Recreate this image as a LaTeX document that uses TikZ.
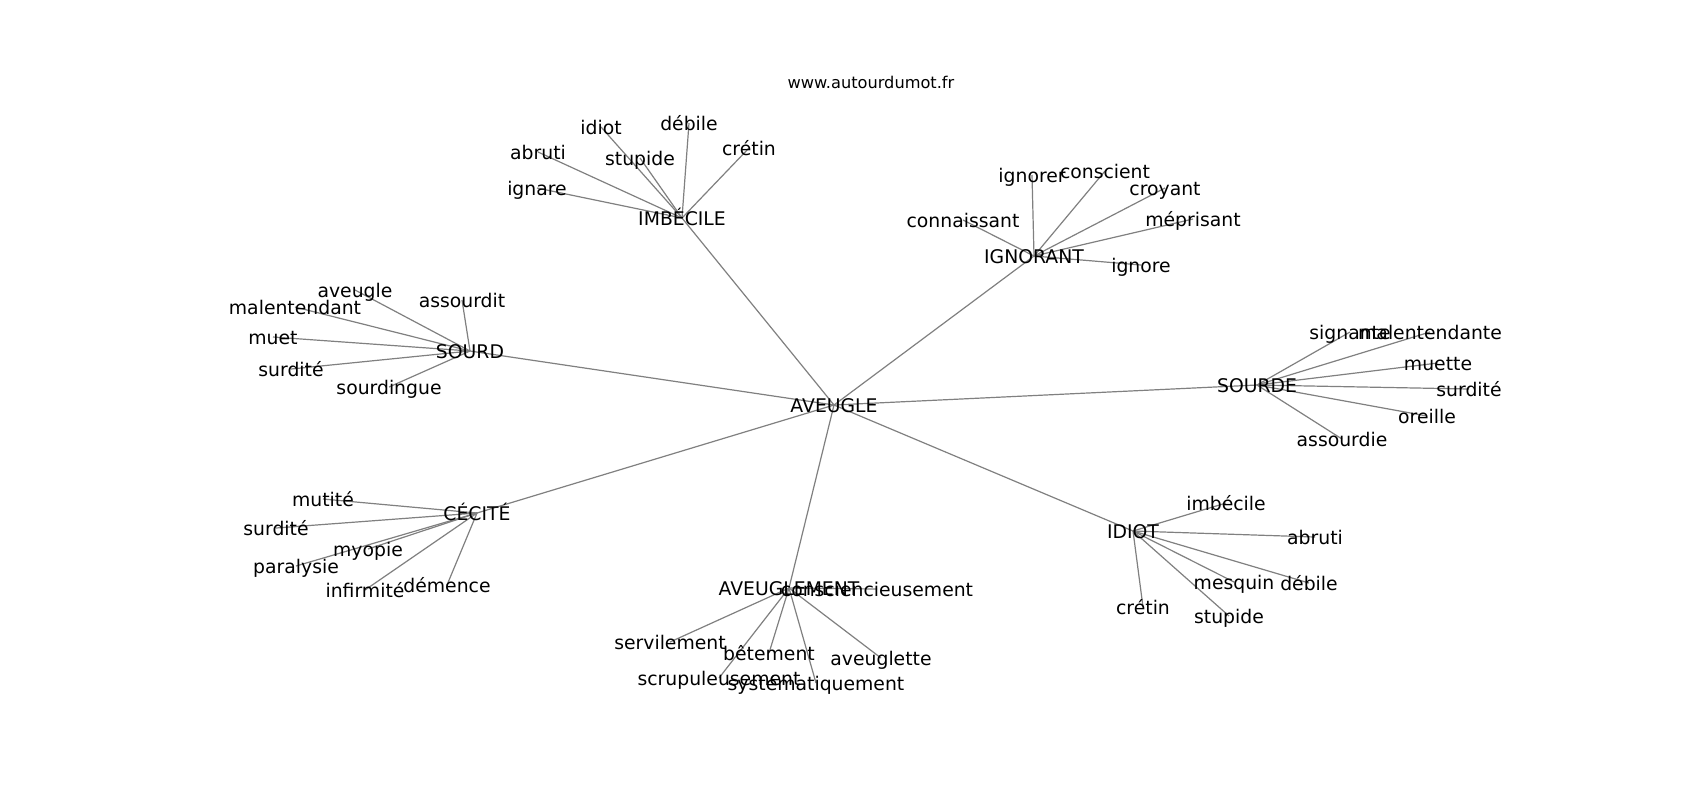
\documentclass[tikz,border=0pt]{standalone}
\usepackage{fontspec}
\setmainfont{DejaVu Sans}
\usetikzlibrary{backgrounds}
\begin{document}
\begin{tikzpicture}[x=0.5pt,y=-0.5pt,
  word/.style={inner sep=0pt, text height=0.76em, text depth=0pt, font=\fontsize{9.4}{11}\selectfont},
  link/.style={draw=gray, line width=0.6pt}]
\useasboundingbox (0,0) rectangle (1700,800);
\node[inner sep=0pt, font=\fontsize{8.1}{10}\selectfont] (site) at (871,82) {www.autourdumot.fr};

%hubs
\node[word] (aveugle) at (834,405) {AVEUGLE};
\node[word] (imbecile) at (682,218) {IMBÉCILE};
\node[word] (ignorant) at (1034,256) {IGNORANT};
\node[word] (sourd) at (470,351) {SOURD};
\node[word] (sourde) at (1257,385) {SOURDE};
\node[word] (cecite) at (477,513) {CÉCITÉ};
\node[word] (aveuglement) at (789,588) {AVEUGLEMENT};
\node[word] (idiot) at (1133,531) {IDIOT};

%around IMBECILE
\node[word] (imb-idiot) at (601,127) {idiot};
\node[word] (imb-debile) at (689,123) {débile};
\node[word] (imb-abruti) at (538,152) {abruti};
\node[word] (imb-stupide) at (640,158) {stupide};
\node[word] (imb-cretin) at (749,148) {crétin};
\node[word] (imb-ignare) at (537,188) {ignare};

%around IGNORANT
\node[word] (ign-ignorer) at (1032,175) {ignorer};
\node[word] (ign-conscient) at (1105,171) {conscient};
\node[word] (ign-croyant) at (1165,188) {croyant};
\node[word] (ign-connaissant) at (963,220) {connaissant};
\node[word] (ign-meprisant) at (1193,219) {méprisant};
\node[word] (ign-ignore) at (1141,265) {ignore};

%around SOURD
\node[word] (srd-aveugle) at (355,290) {aveugle};
\node[word] (srd-assourdit) at (462,300) {assourdit};
\node[word] (srd-malentendant) at (295,307) {malentendant};
\node[word] (srd-muet) at (273,337) {muet};
\node[word] (srd-surdite) at (291,369) {surdité};
\node[word] (srd-sourdingue) at (389,387) {sourdingue};

%around SOURDE
\node[word] (sde-signante) at (1350,332) {signante};
\node[word] (sde-malentendante) at (1430,332) {malentendante};
\node[word] (sde-muette) at (1438,363) {muette};
\node[word] (sde-surdite) at (1469,389) {surdité};
\node[word] (sde-oreille) at (1427,416) {oreille};
\node[word] (sde-assourdie) at (1342,439) {assourdie};

%around CECITE
\node[word] (cec-mutite) at (323,499) {mutité};
\node[word] (cec-surdite) at (276,528) {surdité};
\node[word] (cec-myopie) at (368,549) {myopie};
\node[word] (cec-paralysie) at (296,566) {paralysie};
\node[word] (cec-infirmite) at (365,590) {infirmité};
\node[word] (cec-demence) at (447,585) {démence};

%around AVEUGLEMENT
\node[word] (avt-consciencieusement) at (877,589) {consciencieusement};
\node[word] (avt-servilement) at (670,642) {servilement};
\node[word] (avt-betement) at (769,653) {bêtement};
\node[word] (avt-aveuglette) at (881,658) {aveuglette};
\node[word] (avt-scrupuleusement) at (719,678) {scrupuleusement};
\node[word] (avt-systematiquement) at (816,683) {systématiquement};

%around IDIOT
\node[word] (idi-imbecile) at (1226,503) {imbécile};
\node[word] (idi-abruti) at (1315,537) {abruti};
\node[word] (idi-mesquin) at (1234,582) {mesquin};
\node[word] (idi-debile) at (1309,583) {débile};
\node[word] (idi-cretin) at (1143,607) {crétin};
\node[word] (idi-stupide) at (1229,616) {stupide};

\begin{scope}[on background layer]
\fill[white] (0,0) rectangle (1700,800);
%links from the centre
\draw[link] (aveugle.center) -- (imbecile.center);
\draw[link] (aveugle.center) -- (ignorant.center);
\draw[link] (aveugle.center) -- (sourd.center);
\draw[link] (aveugle.center) -- (sourde.center);
\draw[link] (aveugle.center) -- (cecite.center);
\draw[link] (aveugle.center) -- (aveuglement.center);
\draw[link] (aveugle.center) -- (idiot.center);
%outer links
\draw[link] (imbecile.center) -- (imb-idiot.center);
\draw[link] (imbecile.center) -- (imb-debile.center);
\draw[link] (imbecile.center) -- (imb-abruti.center);
\draw[link] (imbecile.center) -- (imb-stupide.center);
\draw[link] (imbecile.center) -- (imb-cretin.center);
\draw[link] (imbecile.center) -- (imb-ignare.center);
\draw[link] (ignorant.center) -- (ign-ignorer.center);
\draw[link] (ignorant.center) -- (ign-conscient.center);
\draw[link] (ignorant.center) -- (ign-croyant.center);
\draw[link] (ignorant.center) -- (ign-connaissant.center);
\draw[link] (ignorant.center) -- (ign-meprisant.center);
\draw[link] (ignorant.center) -- (ign-ignore.center);
\draw[link] (sourd.center) -- (srd-aveugle.center);
\draw[link] (sourd.center) -- (srd-assourdit.center);
\draw[link] (sourd.center) -- (srd-malentendant.center);
\draw[link] (sourd.center) -- (srd-muet.center);
\draw[link] (sourd.center) -- (srd-surdite.center);
\draw[link] (sourd.center) -- (srd-sourdingue.center);
\draw[link] (sourde.center) -- (sde-signante.center);
\draw[link] (sourde.center) -- (sde-malentendante.center);
\draw[link] (sourde.center) -- (sde-muette.center);
\draw[link] (sourde.center) -- (sde-surdite.center);
\draw[link] (sourde.center) -- (sde-oreille.center);
\draw[link] (sourde.center) -- (sde-assourdie.center);
\draw[link] (cecite.center) -- (cec-mutite.center);
\draw[link] (cecite.center) -- (cec-surdite.center);
\draw[link] (cecite.center) -- (cec-myopie.center);
\draw[link] (cecite.center) -- (cec-paralysie.center);
\draw[link] (cecite.center) -- (cec-infirmite.center);
\draw[link] (cecite.center) -- (cec-demence.center);
\draw[link] (aveuglement.center) -- (avt-consciencieusement.center);
\draw[link] (aveuglement.center) -- (avt-servilement.center);
\draw[link] (aveuglement.center) -- (avt-betement.center);
\draw[link] (aveuglement.center) -- (avt-aveuglette.center);
\draw[link] (aveuglement.center) -- (avt-scrupuleusement.center);
\draw[link] (aveuglement.center) -- (avt-systematiquement.center);
\draw[link] (idiot.center) -- (idi-imbecile.center);
\draw[link] (idiot.center) -- (idi-abruti.center);
\draw[link] (idiot.center) -- (idi-mesquin.center);
\draw[link] (idiot.center) -- (idi-debile.center);
\draw[link] (idiot.center) -- (idi-cretin.center);
\draw[link] (idiot.center) -- (idi-stupide.center);
\end{scope}
\end{tikzpicture}
\end{document}
